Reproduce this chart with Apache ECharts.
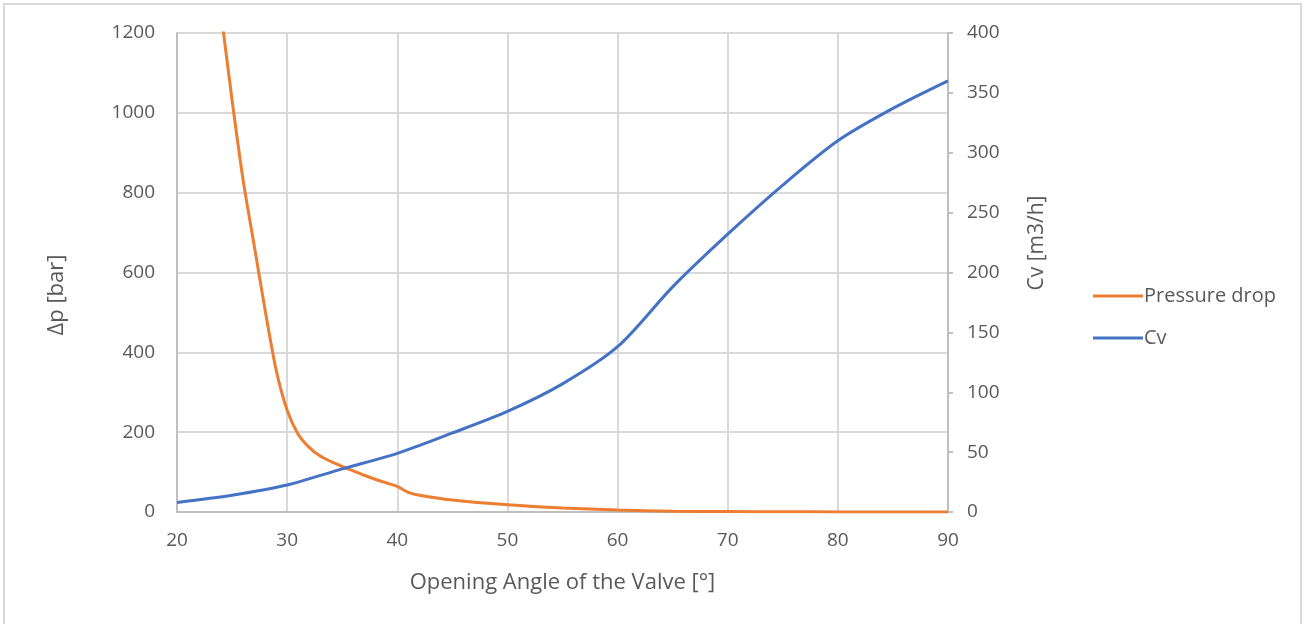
<!DOCTYPE html>
<html>
<head>
<meta charset="utf-8">
<script src="https://cdn.jsdelivr.net/npm/echarts@6/dist/echarts.min.js"></script>
<style>
  html, body { margin: 0; padding: 0; background: #ffffff; }
  #chart { width: 1307px; height: 624px; }
</style>
</head>
<body>
<div id="chart"></div>
<script>
// Opening angle of the valve [°]
const angleTicks = [20, 30, 40, 50, 60, 70, 80, 90];

// Pressure drop [bar] against opening angle
const pressureAngles = [20, 22, 24, 25, 26, 27, 28, 29, 30, 31, 32, 33, 34, 35, 36, 37, 38, 39, 40, 41, 42, 45, 50, 55, 60, 65, 70, 75, 80, 85, 90];
const pressureValues = [2300, 1700, 1250, 1032, 832, 669, 506, 356, 255, 195, 162, 140, 126, 114, 103, 92, 82, 73, 64, 49, 42, 30, 18, 10, 5, 2, 1, 0.5, 0.3, 0.2, 0.1];

// Cv [m3/h] against opening angle
const cvAngles = [20, 25, 30, 35, 40, 45, 50, 55, 60, 65, 70, 75, 80, 85, 90];
const cvValues = [8, 14, 22.5, 36, 49, 66, 84, 107, 138, 188, 232, 273, 310, 337, 360];

const pressureData = pressureAngles.map((a, i) => [a, pressureValues[i]]);
const cvData = cvAngles.map((a, i) => [a, cvValues[i]]);

const textColor = '#595959';
const fontFamily = "'Open Sans', 'Noto Sans', sans-serif";

const chart = echarts.init(document.getElementById('chart'), null, { renderer: 'canvas' });

chart.setOption({
  animation: false,
  backgroundColor: '#ffffff',
  textStyle: { fontFamily: fontFamily, color: textColor },
  grid: { left: 177, right: 359, top: 33, bottom: 112, containLabel: false },
  legend: {
    orient: 'vertical',
    left: 1088,
    top: 281,
    itemWidth: 50,
    itemHeight: 3,
    itemGap: 22,
    icon: 'rect',
    textStyle: { fontSize: 20, color: textColor, fontFamily: fontFamily, padding: [0, 0, 0, -4] },
    data: ['Pressure drop', 'Cv']
  },
  xAxis: {
    type: 'value',
    min: 20,
    max: 90,
    interval: 10,
    name: 'Opening Angle of the Valve [°]',
    nameLocation: 'middle',
    nameGap: 60,
    nameTextStyle: { fontSize: 22, color: textColor, fontFamily: fontFamily },
    axisLine: { show: true, onZero: false, lineStyle: { color: '#bfbfbf', width: 2 } },
    axisTick: { show: false },
    axisLabel: { fontSize: 19, color: textColor, margin: 19, fontFamily: fontFamily },
    splitLine: { show: true, lineStyle: { color: '#d9d9d9', width: 2 } }
  },
  yAxis: [
    {
      type: 'value',
      min: 0,
      max: 1200,
      interval: 200,
      position: 'left',
      axisLine: { show: true, lineStyle: { color: '#bfbfbf', width: 2 } },
      axisTick: { show: false },
      axisLabel: { fontSize: 19, color: textColor, margin: 22, fontFamily: fontFamily, formatter: v => String(v) },
      splitLine: { show: true, lineStyle: { color: '#d9d9d9', width: 2 } }
    },
    {
      type: 'value',
      min: 0,
      max: 400,
      interval: 50,
      position: 'right',
      axisLine: { show: true, lineStyle: { color: '#bfbfbf', width: 2 } },
      axisTick: { show: true, inside: false, length: 5, lineStyle: { color: '#bfbfbf', width: 2 } },
      axisLabel: { fontSize: 19, color: textColor, margin: 19, fontFamily: fontFamily, formatter: v => String(v) },
      splitLine: { show: false }
    }
  ],
  graphic: [
    {
      type: 'rect',
      silent: true,
      shape: { x: 4, y: 4, width: 1297, height: 640 },
      style: { fill: 'none', stroke: '#d9d9d9', lineWidth: 2 }
    },
    {
      type: 'text',
      silent: true,
      x: 57, y: 295,
      rotation: Math.PI / 2,
      style: { text: 'Δp [bar]', fill: textColor, font: "22px 'Open Sans', 'Noto Sans', sans-serif", align: 'center', verticalAlign: 'middle' }
    },
    {
      type: 'text',
      silent: true,
      x: 1037, y: 243,
      rotation: Math.PI / 2,
      style: { text: 'Cv [m3/h]', fill: textColor, font: "21px 'Open Sans', 'Noto Sans', sans-serif", align: 'center', verticalAlign: 'middle' }
    }
  ],
  series: [
    {
      name: 'Pressure drop',
      type: 'line',
      yAxisIndex: 0,
      data: pressureData,
      smooth: 0.25,
      clip: true,
      showSymbol: false,
      symbol: 'none',
      lineStyle: { color: '#ED7D31', width: 3 },
      itemStyle: { color: '#ED7D31' },
      z: 3
    },
    {
      name: 'Cv',
      type: 'line',
      yAxisIndex: 1,
      data: cvData,
      smooth: 0.3,
      clip: true,
      showSymbol: false,
      symbol: 'none',
      lineStyle: { color: '#4472C4', width: 3 },
      itemStyle: { color: '#4472C4' },
      z: 4
    }
  ]
});
</script>
</body>
</html>
